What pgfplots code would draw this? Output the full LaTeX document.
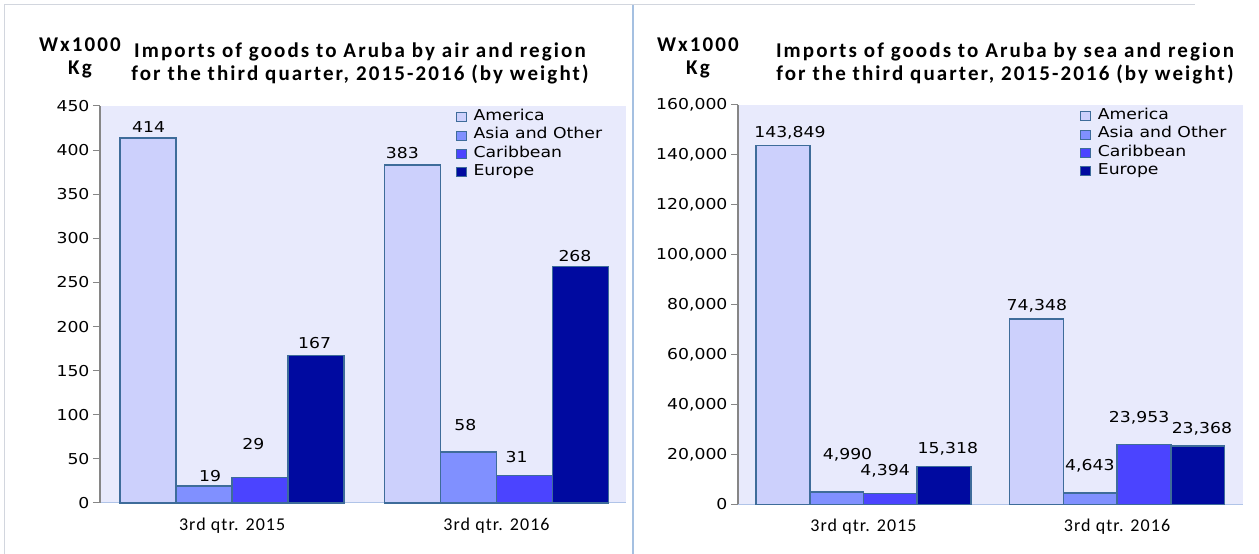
\documentclass[border=0pt]{standalone}
\usepackage{fontspec}
\setmainfont{Carlito}
\newfontfamily\verd[FakeStretch=1.15]{DejaVu Sans}
\newfontfamily\titlef[LetterSpace=10]{Carlito}
\newfontfamily\xtf[LetterSpace=6]{Carlito}
\usepackage{pgfplots}
\pgfplotsset{compat=1.18}
\definecolor{bgc}{RGB}{232,234,252}
\definecolor{cam}{RGB}{204,208,252}
\definecolor{cas}{RGB}{128,144,255}
\definecolor{cca}{RGB}{75,68,255}
\definecolor{ceu}{RGB}{0,10,160}
\definecolor{edge}{RGB}{62,108,154}
\definecolor{axgray}{RGB}{134,134,134}
\definecolor{xline}{RGB}{176,196,232}
\definecolor{framec}{RGB}{210,214,222}
\definecolor{sepc}{RGB}{165,192,225}
\tikzset{lab/.style={font=\verd\fontsize{15}{18}\selectfont, inner sep=0pt, anchor=center}}
\pgfplotsset{
  common/.style={
    scale only axis, anchor=south west, ybar, bar width=0.212,
    axis background/.style={fill=bgc},
    axis lines*=left,
    y axis line style={axgray, line width=1.2pt},
    x axis line style={xline, line width=1pt},
    ytick style={axgray, line width=1pt},
    tick align=outside, major tick length=7pt,
    xtick style={draw=none},
    xtick={0,1}, xticklabels={3rd qtr. 2015, 3rd qtr. 2016},
    /pgf/number format/assume math mode=true,
    yticklabel style={font=\verd\fontsize{15}{18}\selectfont},
    xticklabel style={font=\xtf\fontsize{18}{20}\selectfont, yshift=-4pt},
    clip=false,
    legend cell align=left,
    legend style={draw=none, fill=none, inner sep=0pt, row sep=0pt,
      font=\verd\fontsize{15}{17}\selectfont,
      nodes={inner sep=1.5pt, text height=11pt, text depth=4.3pt}},
    legend image code/.code={\draw[##1, line width=1.1pt] (0pt,-4.5pt) rectangle (10pt,4.5pt); \path (15pt,0pt);},
  },
  bars/.style={bar shift=0pt, draw=edge, line width=1.5pt},
}
\begin{document}
\begin{tikzpicture}[x=1pt,y=1pt]
\path[use as bounding box] (0,0) rectangle (1259,554);
\draw[framec, line width=1pt] (4,0) -- (4,549) -- (1195,549);
\draw[sepc, line width=1.5pt] (633,0) -- (633,549);
% left titles
\node[font=\titlef\bfseries\fontsize{21}{23}\selectfont, align=center] at (80,554-57.5) {Wx1000\\Kg};
\node[font=\titlef\bfseries\fontsize{21}{23}\selectfont, align=center] at (360,554-63.5) {Imports of goods to Aruba by air and region\\for the third quarter, 2015-2016 (by weight)};
% right titles
\node[font=\titlef\bfseries\fontsize{21}{23}\selectfont, align=center] at (698,554-57.5) {Wx1000\\Kg};
\node[font=\titlef\bfseries\fontsize{21}{23}\selectfont, align=center] at (1005,554-63.5) {Imports of goods to Aruba by sea and region\\for the third quarter, 2015-2016 (by weight)};

\begin{axis}[common, at={(100pt,51pt)}, width=526pt, height=397pt,
  xmin=-0.5, xmax=1.49, ymin=0, ymax=450, ytick={0,50,...,450},
  legend style={at={(0.676,0.995)}, anchor=north west}]
\addplot[bars, fill=cam] coordinates {(-0.318,414) (0.682,383)};
\addplot[bars, fill=cas] coordinates {(-0.106,19) (0.894,58)};
\addplot[bars, fill=cca] coordinates {(0.106,29) (1.106,31)};
\addplot[bars, fill=ceu] coordinates {(0.318,167) (1.318,268)};
\legend{America, Asia and Other, Caribbean, Europe}
\node[lab] at (axis cs:-0.316,426) {414};
\node[lab] at (axis cs:-0.083,30.6) {19};
\node[lab] at (axis cs:0.08,66.9) {29};
\node[lab] at (axis cs:0.312,181.4) {167};
\node[lab] at (axis cs:0.644,397) {383};
\node[lab] at (axis cs:0.882,88.4) {58};
\node[lab] at (axis cs:1.076,52.1) {31};
\node[lab] at (axis cs:1.297,280.1) {268};
\end{axis}

\begin{axis}[common, at={(738pt,49.5pt)}, width=505pt, height=399.5pt,
  xmin=-0.495, xmax=1.497, ymin=0, ymax=160000, ytick={0,20000,...,160000},
  scaled y ticks=false, bar width=0.212,
  yticklabel style={/pgf/number format/fixed, /pgf/number format/1000 sep={,}},
  legend style={at={(0.677,0.995)}, anchor=north west}]
\addplot[bars, fill=cam] coordinates {(-0.318,143849) (0.682,74348)};
\addplot[bars, fill=cas] coordinates {(-0.106,4990) (0.894,4643)};
\addplot[bars, fill=cca] coordinates {(0.106,4394) (1.106,23953)};
\addplot[bars, fill=ceu] coordinates {(0.318,15318) (1.318,23368)};
\legend{America, Asia and Other, Caribbean, Europe}
\node[lab] at (axis cs:-0.29,149000) {143,849};
\node[lab] at (axis cs:-0.063,20000) {4,990};
\node[lab] at (axis cs:0.085,13600) {4,394};
\node[lab] at (axis cs:0.333,22400) {15,318};
\node[lab] at (axis cs:0.684,79600) {74,348};
\node[lab] at (axis cs:0.893,15600) {4,643};
\node[lab] at (axis cs:1.087,34800) {23,953};
\node[lab] at (axis cs:1.335,30400) {23,368};
\end{axis}
\end{tikzpicture}
\end{document}
